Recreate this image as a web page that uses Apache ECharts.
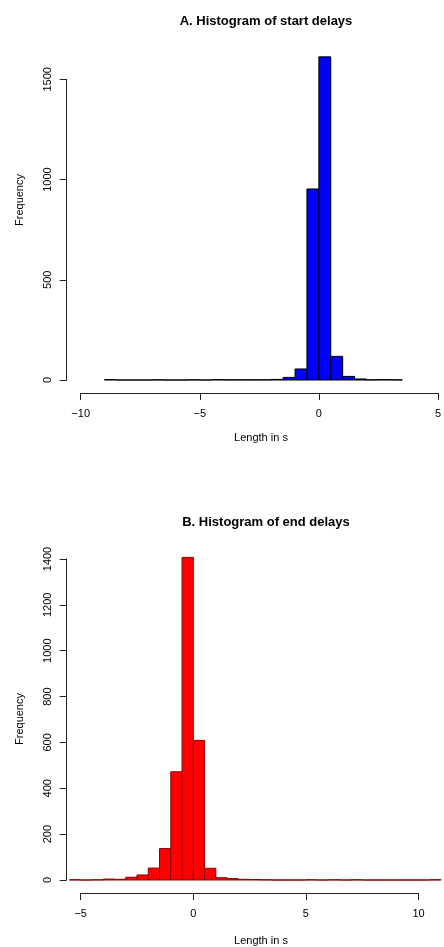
<!DOCTYPE html>
<html>
<head>
<meta charset="utf-8">
<script src="https://cdn.jsdelivr.net/npm/echarts@6/dist/echarts.min.js"></script>
<style>
  html, body { margin: 0; padding: 0; background: #fff; }
  #chart { width: 444px; height: 947px; }
</style>
</head>
<body>
<div id="chart"></div>
<script>
// bin width in seconds (both histograms)
const binWidth = 0.5;

// A. start delays: bins from -9 to 3.5
const firstBreakA = -9;
const countsA = [2, 0, 0, 0, 1, 0, 0, 1, 0, 2, 1, 1, 1, 1, 3, 13, 55, 953, 1612, 118, 18, 5, 1, 2, 1];
const xTicksA = [-10, -5, 0, 5];
const yTicksA = [0, 500, 1000, 1500];

// B. end delays: bins from -5.5 to 11
const firstBreakB = -5.5;
const countsB = [1, 0, 1, 4, 3, 12, 22, 52, 137, 472, 1407, 609, 51, 10, 6, 3, 2, 1, 0, 0, 0, 1, 0, 1, 0, 1, 0, 0, 0, 0, 0, 0, 1];
const xTicksB = [-5, 0, 5, 10];
const yTicksB = [0, 200, 400, 600, 800, 1000, 1200, 1400];

const FONT = "'Liberation Sans', Arial, Helvetica, sans-serif";
const AXIS_COLOR = "#222";

function binRows(first, counts) {
  return counts.map((n, i) => [first + i * binWidth, first + (i + 1) * binWidth, n]);
}

function histSeries(idx, rows, fill, stroke) {
  return {
    type: "custom",
    xAxisIndex: idx,
    yAxisIndex: idx,
    clip: false,
    encode: { x: [0, 1], y: 2 },
    data: rows,
    renderItem: (params, api) => {
      const top = api.coord([api.value(0), api.value(2)]);
      const base = api.coord([api.value(1), 0]);
      return {
        type: "rect",
        shape: { x: top[0], y: top[1], width: base[0] - top[0], height: base[1] - top[1] },
        style: { fill, stroke, lineWidth: 1 },
      };
    },
  };
}

function xAxisFor(idx, ticks) {
  return {
    type: "value",
    gridIndex: idx,
    min: ticks[0],
    max: ticks[ticks.length - 1],
    interval: ticks[1] - ticks[0],
    offset: 13,
    axisLine: { onZero: false, lineStyle: { color: AXIS_COLOR, width: 1 } },
    axisTick: { length: 7, lineStyle: { color: AXIS_COLOR } },
    splitLine: { show: false },
    axisLabel: {
      margin: 15,
      color: "#000",
      fontFamily: FONT,
      fontSize: 11,
      formatter: (v) => String(v).replace("-", "\u2212"),
    },
  };
}

function yAxisFor(idx, ticks) {
  return {
    type: "value",
    gridIndex: idx,
    min: ticks[0],
    max: ticks[ticks.length - 1],
    interval: ticks[1] - ticks[0],
    offset: 14,
    axisLine: { show: true, onZero: false, lineStyle: { color: AXIS_COLOR, width: 1 } },
    axisTick: { show: true, length: 7, lineStyle: { color: AXIS_COLOR } },
    splitLine: { show: false },
    axisLabel: {
      rotate: 90,
      margin: 13,
      color: "#000",
      fontFamily: FONT,
      fontSize: 11,
      formatter: (v) => String(v),
    },
  };
}

function label(text, x, y, rotated) {
  return {
    type: "text",
    x,
    y,
    rotation: rotated ? Math.PI / 2 : 0,
    style: {
      text,
      fill: "#000",
      font: `11px ${FONT}`,
      textAlign: "center",
      textVerticalAlign: "middle",
    },
  };
}

const chart = echarts.init(document.getElementById("chart"), null, { renderer: "canvas" });

chart.setOption({
  backgroundColor: "#fff",
  animation: false,
  title: [
    {
      text: "A. Histogram of start delays",
      left: 261,
      top: 10,
      textAlign: "center",
      textStyle: { fontFamily: FONT, fontSize: 13, fontWeight: "bold", color: "#000" },
    },
    {
      text: "B. Histogram of end delays",
      left: 261,
      top: 511,
      textAlign: "center",
      textStyle: { fontFamily: FONT, fontSize: 13, fontWeight: "bold", color: "#000" },
    },
  ],
  grid: [
    { left: 80.7, top: 79.3, width: 360.3, height: 300.7 },
    { left: 80.7, top: 559, width: 337.8, height: 321 },
  ],
  xAxis: [xAxisFor(0, xTicksA), xAxisFor(1, xTicksB)],
  yAxis: [yAxisFor(0, yTicksA), yAxisFor(1, yTicksB)],
  graphic: [
    label("Frequency", 20, 200, true),
    label("Length in s", 261, 438, false),
    label("Frequency", 20, 719, true),
    label("Length in s", 261, 941, false),
  ],
  series: [
    histSeries(0, binRows(firstBreakA, countsA), "#0000FF", "#000000"),
    histSeries(1, binRows(firstBreakB, countsB), "#FF0000", "#8B0000"),
  ],
});
</script>
</body>
</html>
